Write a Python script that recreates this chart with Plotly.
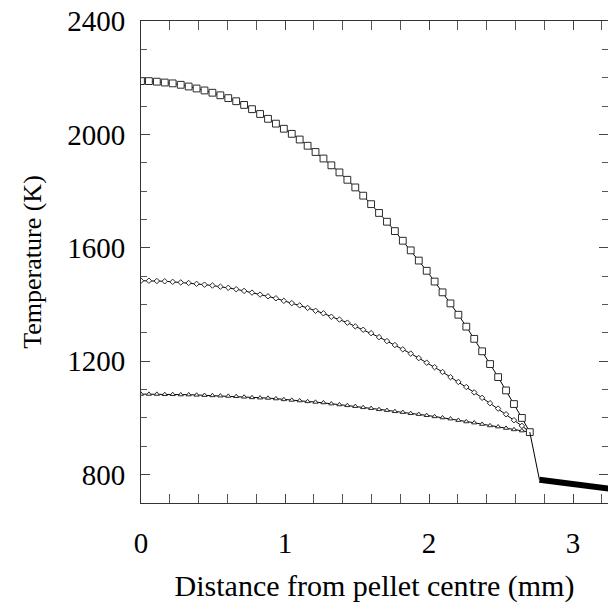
import plotly.graph_objects as go

# radial positions (mm)
r_mm = [0.000, 0.055, 0.110, 0.165, 0.220, 0.276, 0.331, 0.386, 0.441, 0.496,
        0.551, 0.606, 0.661, 0.716, 0.771, 0.827, 0.882, 0.937, 0.992, 1.047,
        1.102, 1.157, 1.212, 1.267, 1.322, 1.378, 1.433, 1.488, 1.543, 1.598,
        1.653, 1.708, 1.763, 1.818, 1.873, 1.929, 1.984, 2.039, 2.094, 2.149,
        2.204, 2.259, 2.314, 2.369, 2.424, 2.480, 2.535, 2.590, 2.645, 2.700]

T_square = [2188, 2188, 2186, 2183, 2180, 2175, 2169, 2162, 2155, 2147,
            2138, 2128, 2117, 2104, 2089, 2072, 2055, 2038, 2020, 2002,
            1982, 1960, 1938, 1915, 1891, 1866, 1840, 1813, 1784, 1754,
            1723, 1692, 1659, 1625, 1591, 1555, 1519, 1481, 1443, 1404,
            1364, 1322, 1279, 1235, 1190, 1144, 1097, 1049, 1000, 950]

T_diamond = [1484, 1484, 1483, 1482, 1480, 1478, 1476, 1473, 1470, 1467,
             1463, 1459, 1454, 1448, 1442, 1435, 1429, 1422, 1413, 1405,
             1397, 1388, 1378, 1369, 1357, 1347, 1336, 1323, 1311, 1299,
             1285, 1271, 1257, 1242, 1227, 1211, 1195, 1179, 1162, 1144,
             1127, 1109, 1090, 1071, 1052, 1033, 1013, 992, 972, 950]

T_triangle = [1084, 1084, 1084, 1083, 1083, 1082, 1082, 1081, 1080, 1079,
              1078, 1077, 1076, 1074, 1072, 1071, 1070, 1068, 1065, 1063,
              1061, 1058, 1056, 1054, 1050, 1047, 1044, 1041, 1037, 1034,
              1030, 1027, 1023, 1020, 1016, 1013, 1009, 1005, 1001, 997,
              992, 987, 983, 978, 973, 969, 964, 959, 955, 950]

# gap and cladding
gap_r = [2.700, 2.767]
gap_T = [950, 782]
clad_r = [2.767, 3.250]
clad_T = [782, 751]

x_ticks = [0, 1, 2, 3]
y_ticks = [800, 1200, 1600, 2000, 2400]

FONT = "Liberation Serif"
MK = "#2a2a2a"

fig = go.Figure()

def series(y, symbol, size):
    fig.add_trace(go.Scatter(
        x=r_mm, y=y, mode="lines+markers",
        line=dict(color="black", width=1),
        marker=dict(symbol=symbol, size=size, color="white",
                    line=dict(color=MK, width=1)),
        showlegend=False, hoverinfo="skip"))

series(T_triangle, "triangle-up", 4.5)
series(T_diamond, "diamond", 4.2)
series(T_square, "square", 6.8)

fig.add_trace(go.Scatter(x=gap_r, y=gap_T, mode="lines",
                         line=dict(color="black", width=1),
                         showlegend=False, hoverinfo="skip", yaxis="y2"))
fig.add_trace(go.Scatter(x=clad_r, y=clad_T, mode="lines",
                         line=dict(color="black", width=6),
                         showlegend=False, hoverinfo="skip", yaxis="y2"))

yr = [700, 2400]
xr = [0, 3.243]

fig.update_layout(
    width=608, height=603,
    margin=dict(l=141, r=0, t=21, b=100, autoexpand=False),
    paper_bgcolor="white", plot_bgcolor="white",
    font=dict(family=FONT, color="black", size=28),
    xaxis=dict(
        range=xr, tickvals=x_ticks, ticktext=[str(v) for v in x_ticks],
        automargin=False,
        ticks="inside", ticklen=9, tickwidth=1, tickcolor="#444",
        showline=True, linecolor="#333", linewidth=1, mirror="allticks",
        showgrid=False, zeroline=False,
        minor=dict(dtick=0.2, tick0=0, ticks="inside", ticklen=6,
                   tickcolor="#555", tickwidth=1, showgrid=False),
        tickfont=dict(size=29), ticklabelstandoff=14,
        title=dict(text="Distance from pellet centre (mm)",
                   font=dict(size=30), standoff=18),
    ),
    yaxis=dict(
        range=yr, tickvals=y_ticks, ticktext=[str(v) for v in y_ticks],
        automargin=False,
        ticks="inside", ticklen=9, tickwidth=1, tickcolor="#444",
        showline=True, linecolor="#333", linewidth=1,
        showgrid=False, zeroline=False,
        minor=dict(dtick=100, tick0=0, ticks="inside", ticklen=6,
                   tickcolor="#555", tickwidth=1, showgrid=False),
        tickfont=dict(size=29), ticklabelstandoff=9,
        title=dict(text="Temperature (K)", font=dict(size=26), standoff=18),
    ),
    yaxis2=dict(
        range=yr, overlaying="y", side="right", anchor="x",
        automargin=False,
        tickvals=y_ticks, showticklabels=False,
        ticks="inside", ticklen=9, tickwidth=1, tickcolor="#444",
        showline=False, showgrid=False, zeroline=False,
        minor=dict(dtick=100, tick0=0, ticks="inside", ticklen=6,
                   tickcolor="#555", tickwidth=1, showgrid=False),
    ),
)

fig.write_html(
    "out.html",
    config={"displayModeBar": False},
    post_script="document.body.style.margin='0';document.body.style.overflow='hidden';",
)
